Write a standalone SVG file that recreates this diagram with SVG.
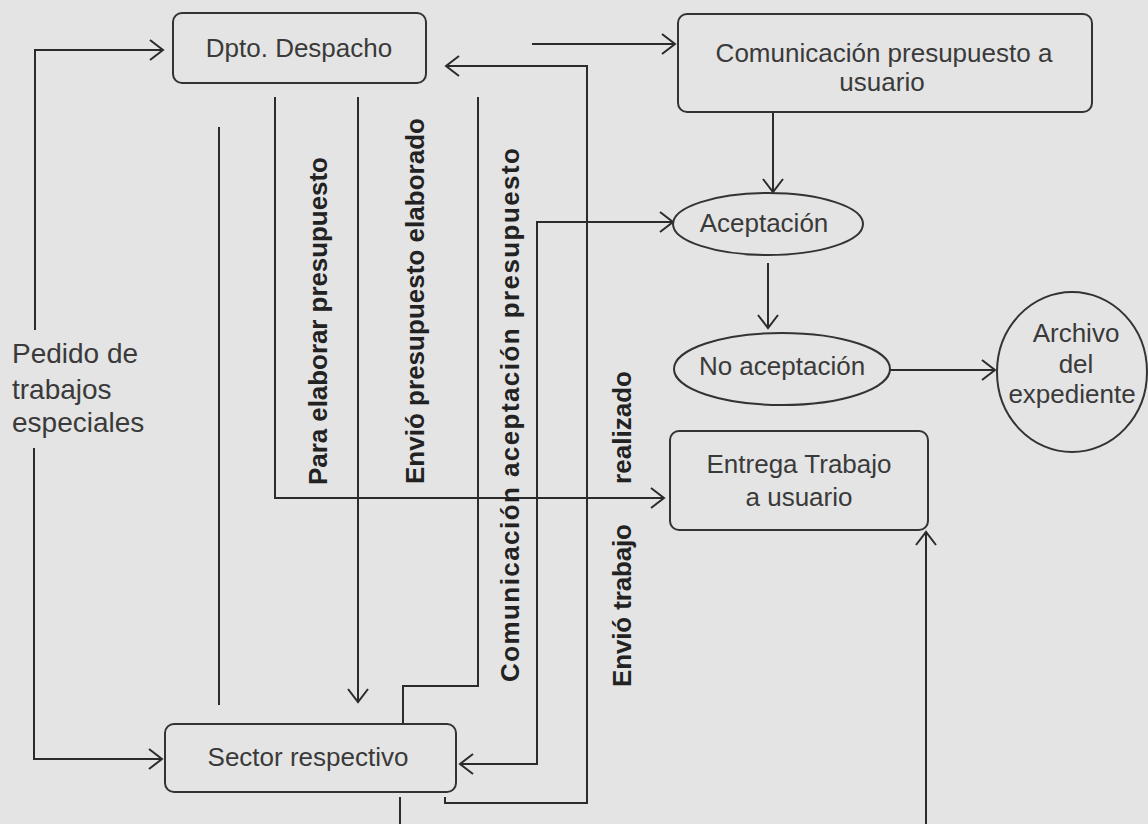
<svg xmlns="http://www.w3.org/2000/svg" width="1148" height="824" viewBox="0 0 1148 824">
<defs>
<style>
.bg{fill:#e4e4e4}
.box{fill:none;stroke:#333;stroke-width:2}
.ln{fill:none;stroke:#2b2b2b;stroke-width:2}
.t{font-family:"Liberation Sans",Arial,sans-serif;font-size:26px;fill:#3a3a3a;text-anchor:middle}
.tl{font-family:"Liberation Sans",Arial,sans-serif;font-size:28px;fill:#3a3a3a}
.v{font-family:"Liberation Sans",Arial,sans-serif;font-size:26px;font-weight:bold;fill:#222}
</style>
<marker id="ah" markerUnits="userSpaceOnUse" markerWidth="18" markerHeight="24" refX="15" refY="12" orient="auto-start-reverse">
<path d="M2,2 L15,12 L2,22" fill="none" stroke="#2b2b2b" stroke-width="2"/>
</marker>
</defs>
<rect class="bg" x="0" y="0" width="1148" height="824"/>

<g id="connectors">
<path class="ln" d="M35,330 V50 H163" marker-end="url(#ah)"/>
<path class="ln" d="M34,448 V759 H162" marker-end="url(#ah)"/>
<path class="ln" d="M532,44 H675" marker-end="url(#ah)"/>
<path class="ln" d="M445,797 V803 H587 V66 H446" marker-end="url(#ah)"/>
<path class="ln" d="M460,764 H537 V222 H673" marker-start="url(#ah)" marker-end="url(#ah)"/>
<path class="ln" d="M275,97 V498 H664" marker-end="url(#ah)"/>
<path class="ln" d="M358,97 V702" marker-end="url(#ah)"/>
<path class="ln" d="M478,97 V686 H403 V724"/>
<path class="ln" d="M219,127 V705"/>
<path class="ln" d="M773,112 V192" marker-end="url(#ah)"/>
<path class="ln" d="M768,263 V328" marker-end="url(#ah)"/>
<path class="ln" d="M890,370 H995" marker-end="url(#ah)"/>
<path class="ln" d="M926,824 V532" marker-end="url(#ah)"/>
<path class="ln" d="M400,797 V824"/>
<text class="v" transform="translate(327,485) rotate(-90)" textLength="328" lengthAdjust="spacing">Para elaborar presupuesto</text>
<text class="v" transform="translate(424,484) rotate(-90)" textLength="366" lengthAdjust="spacing">Envió presupuesto elaborado</text>
<text class="v" transform="translate(519,682) rotate(-90)" textLength="534" lengthAdjust="spacing">Comunicación aceptación presupuesto</text>
<text class="v" transform="translate(631,687) rotate(-90)" textLength="163" lengthAdjust="spacing">Envió trabajo</text>
<text class="v" transform="translate(631,484) rotate(-90)" textLength="113" lengthAdjust="spacing">realizado</text>
</g>

<g id="pedido">
<text class="tl" x="12" y="363">Pedido de</text>
<text class="tl" x="12" y="399">trabajos</text>
<text class="tl" x="12" y="432">especiales</text>
</g>

<g id="dpto-despacho">
<rect class="box" x="173" y="13" width="253" height="70" rx="9"/>
<text class="t" x="299" y="57">Dpto. Despacho</text>
</g>

<g id="comunicacion">
<rect class="box" x="678" y="14" width="414" height="98" rx="9"/>
<text class="t" x="884" y="62">Comunicación presupuesto a</text>
<text class="t" x="882" y="91">usuario</text>
</g>

<g id="aceptacion">
<ellipse class="box" cx="768" cy="224" rx="95" ry="31"/>
<text class="t" x="764" y="232">Aceptación</text>
</g>

<g id="no-aceptacion">
<ellipse class="box" cx="782" cy="369" rx="108" ry="36"/>
<text class="t" x="782" y="375">No aceptación</text>
</g>

<g id="archivo">
<ellipse class="box" cx="1072" cy="372" rx="75" ry="80"/>
<text class="t" x="1076" y="342">Archivo</text>
<text class="t" x="1076" y="373">del</text>
<text class="t" x="1072" y="403">expediente</text>
</g>

<g id="entrega">
<rect class="box" x="670" y="431" width="258" height="99" rx="9"/>
<text class="t" x="799" y="473">Entrega Trabajo</text>
<text class="t" x="799" y="506">a usuario</text>
</g>

<g id="sector">
<rect class="box" x="165" y="724" width="291" height="68" rx="9"/>
<text class="t" x="308" y="766">Sector respectivo</text>
</g>
</svg>
